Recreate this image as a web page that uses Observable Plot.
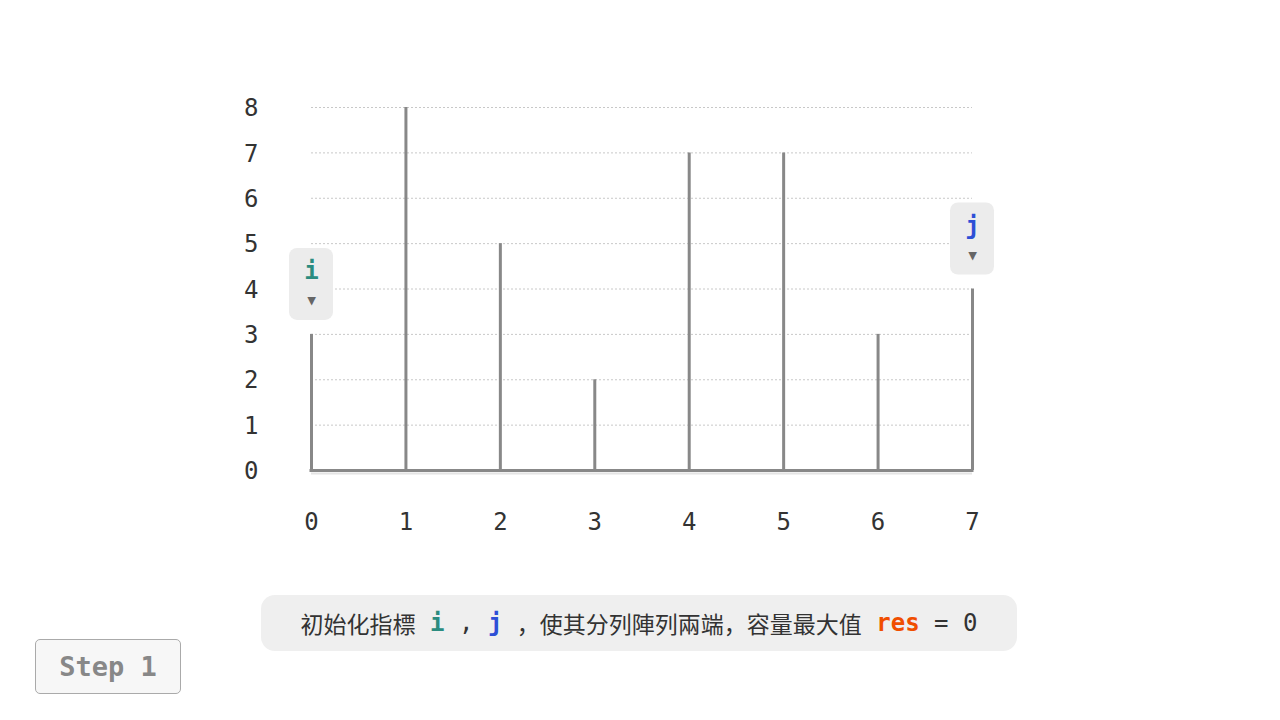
<!DOCTYPE html>
<html>
<head>
<meta charset="utf-8">
<script src="https://cdn.jsdelivr.net/npm/d3@7"></script>
<script src="https://cdn.jsdelivr.net/npm/@observablehq/plot@0.6"></script>
<style>
  html, body { margin: 0; padding: 0; background: #fff; }
  #wrap { position: relative; width: 1280px; height: 720px; overflow: hidden; font-family: "DejaVu Sans Mono", "Noto Sans CJK SC", monospace; }
  #chart { position: absolute; left: 0; top: 0; }
  #caption { position: absolute; left: 261px; top: 595px; width: 756px; height: 56px; background: #efefef; border-radius: 14px;
    display: flex; align-items: center; justify-content: center; font-size: 24px; color: #333; white-space: pre;
    font-family: "DejaVu Sans Mono", "Noto Sans CJK SC", monospace; }
  #caption .cjk { font-family: "Noto Sans CJK SC", sans-serif; font-size: 23px; }
  #step { position: absolute; left: 35px; top: 639px; width: 146px; height: 55px; box-sizing: border-box; border: 1px solid #aaa; border-radius: 5px;
    background: #f7f7f7; display: flex; align-items: center; justify-content: center; font-size: 27px; font-weight: bold; color: #888; }
</style>
</head>
<body>
<div id="wrap">
  <div id="chart"></div>
  <div id="caption"></div>
  <div id="step">Step 1</div>
</div>
<script>
const indices = [0, 1, 2, 3, 4, 5, 6, 7];
const heights = [3, 8, 5, 2, 7, 7, 3, 4];
const yTicks = [0, 1, 2, 3, 4, 5, 6, 7, 8];
const pointerNames = ["i", "j"];
const pointerIdx = [0, 7];
const pointerColors = ["#2b8c80", "#2d4fd6"];
const captionParts = [
  {t: "初始化指標", cls: "cjk"},
  {t: " "},
  {t: "i", color: "#2b8c80", bold: true},
  {t: " , "},
  {t: "j", color: "#2d4fd6", bold: true},
  {t: " "},
  {t: "，使其分列陣列兩端，容量最大值", cls: "cjk"},
  {t: " "},
  {t: "res", color: "#f04e00", bold: true},
  {t: " = 0"}
];

const bars = indices.map((x, k) => ({x, h: heights[k]}));
const pointers = pointerNames.map((name, k) => ({name, x: pointerIdx[k], h: heights[pointerIdx[k]], color: pointerColors[k]}));

const font = "DejaVu Sans Mono, monospace";
const plot = Plot.plot({
  width: 1280,
  height: 560,
  marginLeft: 311,
  marginRight: 308,
  marginTop: 107,
  marginBottom: 90,
  style: {fontFamily: font, fontSize: "24px", color: "#333", background: "transparent"},
  x: {domain: [0, 7]},
  y: {domain: [0, 8]},
  marks: [
    Plot.gridY(yTicks.slice(1), {stroke: "#c8c8c8", strokeOpacity: 1, strokeDasharray: "2,2", strokeWidth: 1}),
    Plot.axisY(yTicks, {tickSize: 0, tickPadding: 53, fontSize: 24, fill: "#333", label: null, dy: 1}),
    Plot.axisX(indices, {tickSize: 0, tickPadding: 42, fontSize: 24, fill: "#333", label: null}),
    Plot.ruleX(bars, {x: "x", y1: 0, y2: "h", stroke: "#888", strokeWidth: 3}),
    Plot.ruleY([0], {x1: 0, x2: 7, stroke: "#e4e4e4", strokeWidth: 2, dy: 3}),
    Plot.ruleY([0], {x1: 0, x2: 7, stroke: "#888", strokeWidth: 3, strokeLinecap: "square"}),
    Plot.rect(pointers, {x1: "x", x2: "x", y1: "h", y2: "h", insetLeft: -22, insetRight: -22, insetTop: -86, insetBottom: 14, rx: 8, fill: "#ececec"}),
    Plot.text(pointers, {x: "x", y: "h", text: "name", fill: "color", fontWeight: "bold", fontSize: 24, dy: -63}),
    Plot.text(pointers, {x: "x", y: "h", text: () => "▾", fill: "#666", fontSize: 22, dy: -34})
  ]
});
document.getElementById("chart").appendChild(plot);

const cap = document.getElementById("caption");
for (const p of captionParts) {
  const s = document.createElement("span");
  s.textContent = p.t;
  if (p.cls) s.className = p.cls;
  if (p.color) s.style.color = p.color;
  if (p.bold) s.style.fontWeight = "bold";
  cap.appendChild(s);
}
</script>
</body>
</html>
